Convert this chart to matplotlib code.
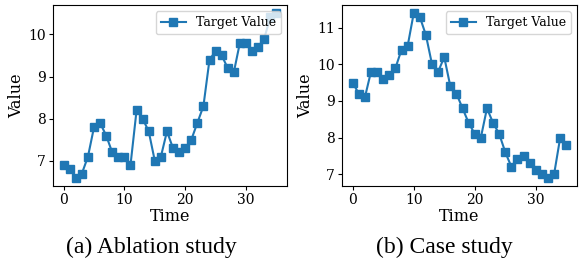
import matplotlib
matplotlib.use("Agg")
import matplotlib.pyplot as plt

time = list(range(36))
ablation = [6.9, 6.8, 6.6, 6.7, 7.1, 7.8, 7.9, 7.6, 7.2, 7.1, 7.1, 6.9,
            8.2, 8.0, 7.7, 7.0, 7.1, 7.7, 7.3, 7.2, 7.3, 7.5, 7.9, 8.3,
            9.4, 9.6, 9.5, 9.2, 9.1, 9.8, 9.8, 9.6, 9.7, 9.9, 10.4, 10.5]
case = [9.5, 9.2, 9.1, 9.8, 9.8, 9.6, 9.7, 9.9, 10.4, 10.5, 11.4, 11.3,
        10.8, 10.0, 9.8, 10.2, 9.4, 9.2, 8.8, 8.4, 8.1, 8.0, 8.8, 8.4,
        8.1, 7.6, 7.2, 7.4, 7.5, 7.3, 7.1, 7.0, 6.9, 7.0, 8.0, 7.8]
captions = ["(a) Ablation study", "(b) Case study"]
legend_label = "Target Value"

plt.rcParams['font.family'] = ['DejaVu Serif']

fig = plt.figure(figsize=(5.8, 2.68), dpi=100)
ax1 = fig.add_axes([53/580, 82/268, 234/580, 181/268])
ax2 = fig.add_axes([342/580, 82/268, 235/580, 181/268])

for ax, data in [(ax1, ablation), (ax2, case)]:
    ax.plot(time, data, marker='s', color='#1f77b4', markersize=5.5,
            linewidth=1.5, label=legend_label)
    ax.set_xlabel("Time", fontsize=11.5, labelpad=1)
    ax.set_ylabel("Value", fontsize=11.5, labelpad=2)
    ax.tick_params(labelsize=10, length=3, pad=2)
    ax.set_xticks([0, 10, 20, 30])
    ax.legend(loc='upper right', fontsize=9, handlelength=2.0)

ax1.set_yticks([7, 8, 9, 10])
ax2.set_yticks([7, 8, 9, 10, 11])

fig.text(151/580, 1 - 247/268, captions[0], ha='center', va='center',
         fontsize=17, family='Liberation Serif')
fig.text(444/580, 1 - 247/268, captions[1], ha='center', va='center',
         fontsize=17, family='Liberation Serif')

fig.savefig("out.png", dpi=100)
